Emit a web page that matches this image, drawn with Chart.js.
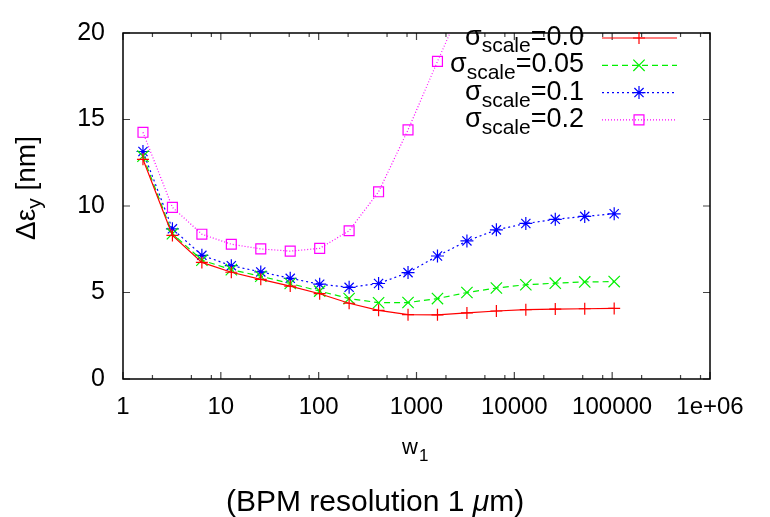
<!DOCTYPE html>
<html lang="en">
<head>
<meta charset="UTF-8">
<script src="https://cdn.jsdelivr.net/npm/chart.js@4"></script>
<title>w1 scan</title>
<style>
  body { margin: 0; background: #fff; }
  #wrap { width: 770px; height: 517px; position: relative; }
</style>
</head>
<body>
<div id="wrap"><canvas id="myChart"></canvas></div>
<script>
// w1 values (doubling steps)
const w1 = [1.6, 3.2, 6.4, 12.8, 25.6, 51.2, 102.4, 204.8, 409.6, 819.2,
  1638.4, 3276.8, 6553.6, 13107.2, 26214.4, 52428.8, 104857.6];

// delta emittance [nm] for each sigma_scale
const sig00 = [12.7, 8.3, 6.74, 6.17, 5.76, 5.37, 4.93, 4.38, 3.97, 3.72,
  3.71, 3.82, 3.93, 4.01, 4.04, 4.06, 4.08];
const sig005 = [12.88, 8.4, 6.87, 6.32, 5.94, 5.52, 5.08, 4.65, 4.41, 4.42,
  4.65, 5.0, 5.26, 5.45, 5.54, 5.61, 5.63];
const sig01 = [13.15, 8.68, 7.15, 6.55, 6.19, 5.82, 5.48, 5.3, 5.52, 6.15,
  7.11, 7.98, 8.62, 8.99, 9.23, 9.4, 9.55];
const sig02 = [14.26, 9.92, 8.37, 7.79, 7.52, 7.39, 7.55, 8.57, 10.82, 14.4,
  18.36, 22.2];

const legendNums = ['0.0', '0.05', '0.1', '0.2'];
const xTicks = [1, 10, 100, 1000, 10000, 100000, 1000000];
const xTickLabels = ['1', '10', '100', '1000', '10000', '100000', '1e+06'];
const yTicks = [0, 5, 10, 15, 20];

const pts = (ys) => ys.map((y, i) => ({ x: w1[i], y: y }));

const series = [
  { data: sig00, color: '#ff0000', style: 'cross', r: 6, dash: [] },
  { data: sig005, color: '#00f000', style: 'crossRot', r: 8, dash: [6, 4] },
  { data: sig01, color: '#0000ff', style: 'star', r: 6.5, dash: [2, 3] },
  { data: sig02, color: '#ff00ff', style: 'rect', r: 7, dash: [1, 2] }
];

const FONT = '"Liberation Sans", Arial, sans-serif';

// frame, inward ticks, legend, titles
const decor = {
  id: 'decor',
  afterDraw(chart) {
    const ctx = chart.ctx;
    const a = chart.chartArea;
    const xs = chart.scales.x, ys = chart.scales.y;
    ctx.save();

    // ticks
    ctx.strokeStyle = '#444';
    ctx.lineWidth = 1.2;
    ctx.beginPath();
    for (let d = 1; d <= 1e6; d *= 10) {
      const px = xs.getPixelForValue(d);
      ctx.moveTo(px, a.bottom); ctx.lineTo(px, a.bottom - 7);
      ctx.moveTo(px, a.top); ctx.lineTo(px, a.top + 7);
      if (d < 1e6) {
        [2, 5, 8].forEach(m => {
          const mx = xs.getPixelForValue(d * m);
          ctx.moveTo(mx, a.bottom); ctx.lineTo(mx, a.bottom - 4);
          ctx.moveTo(mx, a.top); ctx.lineTo(mx, a.top + 4);
        });
      }
    }
    yTicks.forEach(v => {
      const py = ys.getPixelForValue(v);
      ctx.moveTo(a.left, py); ctx.lineTo(a.left + 7, py);
      ctx.moveTo(a.right, py); ctx.lineTo(a.right - 7, py);
    });
    ctx.stroke();

    // frame
    ctx.strokeStyle = '#000';
    ctx.lineWidth = 1.5;
    ctx.strokeRect(a.left, a.top, a.right - a.left, a.bottom - a.top);

    // legend
    ctx.textBaseline = 'alphabetic';
    series.forEach((s, i) => {
      const base = 45 + i * 27.3;
      ctx.fillStyle = '#000';
      ctx.font = '27px ' + FONT;
      const wSig = ctx.measureText('σ').width;
      const wNum = ctx.measureText('=' + legendNums[i]).width;
      ctx.font = '21px ' + FONT;
      const wSub = ctx.measureText('scale').width;
      let x = 584 - (wSig + wSub + wNum);
      ctx.font = '27px ' + FONT;
      ctx.fillText('σ', x, base);
      x += wSig;
      ctx.font = '21px ' + FONT;
      ctx.fillText('scale', x, base + 7);
      x += wSub;
      ctx.font = '27px ' + FONT;
      ctx.fillText('=' + legendNums[i], x, base);

      const ly = base - 7;
      ctx.strokeStyle = s.color;
      ctx.lineWidth = 1.2;
      ctx.setLineDash(s.dash);
      ctx.beginPath();
      ctx.moveTo(602, ly); ctx.lineTo(677, ly);
      ctx.stroke();
      ctx.setLineDash([]);
      ctx.fillStyle = 'rgba(0,0,0,0)';
      Chart.helpers.drawPoint(ctx, { pointStyle: s.style, radius: s.r, rotation: 0, borderWidth: 1.2 }, 639, ly);
    });
    ctx.fillStyle = '#000';

    // y title (rotated)
    ctx.save();
    ctx.translate(35, 240);
    ctx.rotate(-Math.PI / 2);
    ctx.fillStyle = '#000';
    ctx.font = '28px ' + FONT;
    let tx = 0;
    ctx.fillText('Δε', tx, 0);
    tx += ctx.measureText('Δε').width;
    ctx.font = '21px ' + FONT;
    ctx.fillText('y', tx, 6);
    tx += ctx.measureText('y').width;
    ctx.font = '28px ' + FONT;
    ctx.fillText(' [nm]', tx, 0);
    ctx.restore();

    // x title
    ctx.font = '22px ' + FONT;
    ctx.fillText('w', 402, 454);
    const ww = ctx.measureText('w').width;
    ctx.font = '17px ' + FONT;
    ctx.fillText('1', 402 + ww + 1, 461);

    // caption
    ctx.font = '30px ' + FONT;
    let cx = 226;
    const c1 = '(BPM resolution 1 ';
    ctx.fillText(c1, cx, 511);
    cx += ctx.measureText(c1).width;
    ctx.font = 'italic 30px ' + FONT;
    ctx.fillText('μ', cx, 511);
    cx += ctx.measureText('μ').width;
    ctx.font = '30px ' + FONT;
    ctx.fillText('m)', cx, 511);

    ctx.restore();
  }
};

const ctx = document.getElementById('myChart').getContext('2d');
const chart = new Chart(ctx, {
  type: 'line',
  data: {
    datasets: series.map(s => ({
      data: pts(s.data),
      borderColor: s.color,
      backgroundColor: 'rgba(0,0,0,0)',
      borderWidth: 1.2,
      borderDash: s.dash,
      pointStyle: s.style,
      pointRadius: s.r,
      pointBorderWidth: 1.2,
      pointBorderColor: s.color,
      pointBackgroundColor: 'rgba(0,0,0,0)',
      tension: 0,
      fill: false
    }))
  },
  options: {
    responsive: true,
    maintainAspectRatio: false,
    animation: false,
    events: [],
    layout: { padding: { top: 18, right: 60, left: 0, bottom: 0 } },
    plugins: { legend: { display: false }, tooltip: { enabled: false } },
    scales: {
      x: {
        type: 'logarithmic',
        min: 1,
        max: 1000000,
        grid: { display: false, drawTicks: false },
        border: { display: false },
        afterBuildTicks: (s) => { s.ticks = xTicks.map(v => ({ value: v })); },
        afterFit: (s) => { s.height = 138; },
        ticks: {
          autoSkip: false,
          maxRotation: 0,
          padding: 14,
          color: '#000',
          font: { family: FONT, size: 24 },
          callback: (v) => xTickLabels[xTicks.indexOf(v)]
        }
      },
      y: {
        min: 0,
        max: 20,
        grid: { display: false, drawTicks: false },
        border: { display: false },
        afterBuildTicks: (s) => { s.ticks = yTicks.map(v => ({ value: v })); },
        afterFit: (s) => { s.width = 123; },
        ticks: {
          padding: 18,
          color: '#000',
          font: { family: FONT, size: 25 }
        }
      }
    }
  },
  plugins: [decor]
});
</script>
</body>
</html>
